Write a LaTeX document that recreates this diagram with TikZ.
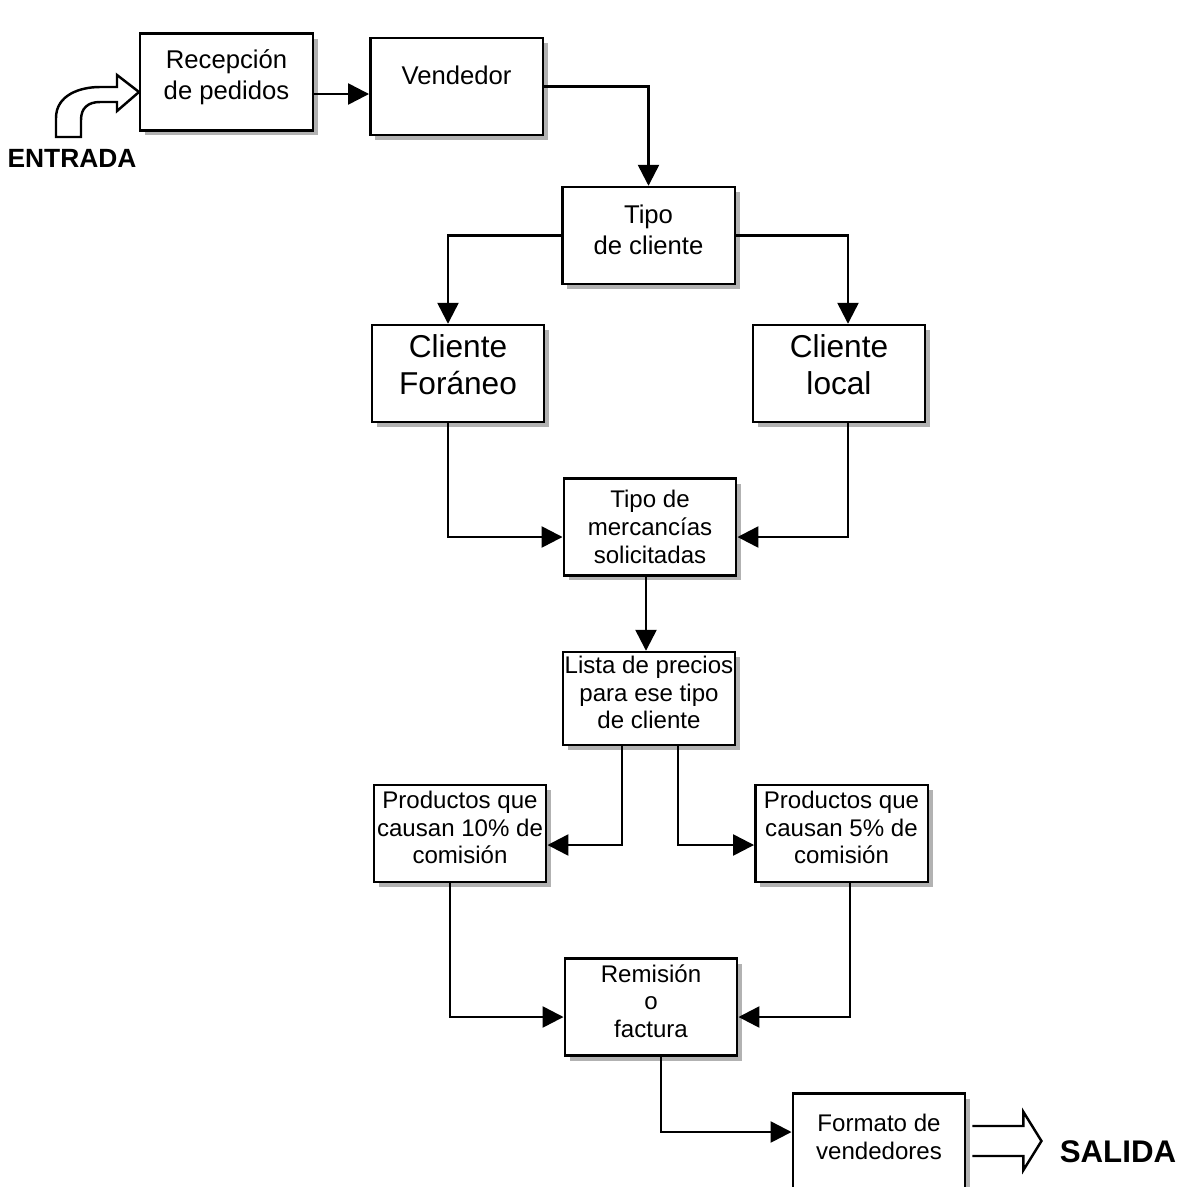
\documentclass[tikz,border=0pt]{standalone}
\usepackage{fontspec}
\setmainfont{Liberation Sans}
\usetikzlibrary{arrows.meta,shadows}
\tikzset{
  proc/.style={draw, line width=1.4pt, fill=white, align=center,
    minimum width=3.45cm, minimum height=1.94cm, inner sep=1pt, text depth=0.24cm,
    drop shadow={shadow xshift=0.1cm, shadow yshift=-0.1cm, fill=gray!60, opacity=1}},
  bigtext/.style={font=\fontsize{14.6}{17.5}\selectfont},
  smalltext/.style={font=\fontsize{13.7}{15.8}\selectfont},
  hugetext/.style={font=\fontsize{18}{21.5}\selectfont},
  flow/.style={draw, line width=1.4pt, -{Triangle[length=0.42cm,width=0.42cm]}},
  blockarrow/.style={draw, line width=1.4pt, fill=white, line join=miter},
  label/.style={font=\fontsize{15}{18}\selectfont\bfseries}
}
\begin{document}
\begin{tikzpicture}[x=0.02cm, y=-0.02cm]
  \useasboundingbox (0,0) rectangle (1184,1187);
  \draw
    (226.5,82) node[proc, bigtext, text depth=0.3cm] (recep) {Recepción\\de pedidos}
    (456.5,86.5) node[proc, bigtext, text depth=0.46cm] (vend) {Vendedor}
    (648.5,235.5) node[proc, bigtext] (tipoc) {Tipo\\de cliente}
    (458,373.5) node[proc, hugetext, text depth=0.36cm] (foran) {Cliente\\Foráneo}
    (839,373.5) node[proc, hugetext, text depth=0.36cm] (local) {Cliente\\local}
    (650,527) node[proc, smalltext, text depth=0cm] (merc) {Tipo de\\mercancías\\solicitadas}
    (649,698.5) node[proc, smalltext, minimum height=1.86cm] (lista) {Lista de precios\\para ese tipo\\de cliente}
    (460,833.5) node[proc, smalltext] (pdiez) {Productos que\\causan 10\% de\\comisión}
    (841.5,833.5) node[proc, smalltext] (pcinco) {Productos que\\causan 5\% de\\comisión}
    (651,1007) node[proc, smalltext] (remis) {Remisión\\o\\factura}
    (879,1142) node[proc, smalltext, text depth=0.2cm] (formato) {Formato de\\vendedores};
  \node[label] (entrada) at (72,158) {ENTRADA};
  \node[label, font=\fontsize{17.8}{21}\selectfont\bfseries] (salida) at (1118,1152) {SALIDA};
  \begin{scope}[flow]
    \draw ([yshift=-0.24cm]recep.east) -- ([yshift=-0.24cm]recep.east -| vend.west);
    \draw (vend.east) -| (tipoc.north);
    \draw (tipoc.west) -| ([xshift=-0.2cm]foran.north);
    \draw (tipoc.east) -| ([xshift=0.18cm]local.north);
    \draw ([xshift=-0.2cm]foran.south) |- ([yshift=-0.2cm]merc.west);
    \draw ([xshift=0.18cm]local.south) |- ([yshift=-0.2cm]merc.east);
    \draw ([xshift=-0.08cm]merc.south) -- ([xshift=-0.08cm]merc.south |- lista.north);
    \draw ([xshift=-0.54cm]lista.south) |- ([yshift=-0.23cm]pdiez.east);
    \draw ([xshift=0.58cm]lista.south) |- ([yshift=-0.23cm]pcinco.west);
    \draw ([xshift=-0.2cm]pdiez.south) |- ([yshift=-0.2cm]remis.west);
    \draw ([xshift=0.17cm]pcinco.south) |- ([yshift=-0.2cm]remis.east);
    \draw ([xshift=0.2cm]remis.south) |- ([yshift=0.2cm]formato.west);
  \end{scope}
  \draw[blockarrow] (56,137) -- (56,118) .. controls (56,95) and (80,87) .. (100,87)
    -- (117,87) -- (117,75) -- (139,92) -- (117,111) -- (117,102) -- (100,102)
    .. controls (88,102) and (81,108) .. (81,120) -- (81,137) -- cycle;
  \begin{scope}[shift={(formato.east)}]
    \draw[blockarrow] (6,-16) -- (57,-16) -- (57,-30) -- (75,-1) -- (57,28) -- (57,14) -- (6,14);
  \end{scope}
\end{tikzpicture}
\end{document}
